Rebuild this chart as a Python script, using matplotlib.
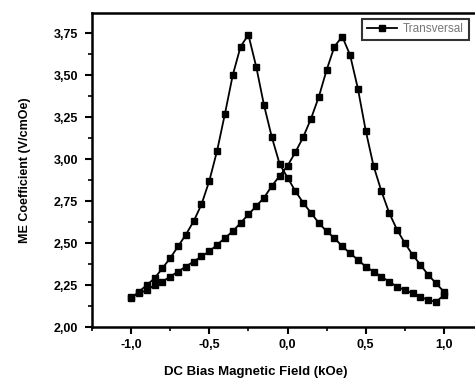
import numpy as np
import matplotlib
matplotlib.use("Agg")
import matplotlib.pyplot as plt

plt.rcParams['font.family'] = ['Liberation Sans', 'DejaVu Sans']

# sweep -1 -> 1 kOe
field_up = [-1.00, -0.95, -0.90, -0.85, -0.80, -0.75, -0.70, -0.65, -0.60, -0.55,
            -0.50, -0.45, -0.40, -0.35, -0.30, -0.25, -0.20, -0.15, -0.10, -0.05,
            0.00, 0.05, 0.10, 0.15, 0.20, 0.25, 0.30, 0.35, 0.40, 0.45,
            0.50, 0.55, 0.60, 0.65, 0.70, 0.75, 0.80, 0.85, 0.90, 0.95, 1.00]
me_up = [2.18, 2.20, 2.22, 2.25, 2.27, 2.30, 2.33, 2.36, 2.39, 2.42,
         2.45, 2.49, 2.53, 2.57, 2.62, 2.67, 2.72, 2.77, 2.84, 2.90,
         2.96, 3.04, 3.13, 3.24, 3.37, 3.53, 3.67, 3.73, 3.62, 3.42,
         3.17, 2.96, 2.81, 2.68, 2.58, 2.50, 2.43, 2.37, 2.31, 2.26, 2.21]

# sweep 1 -> -1 kOe
field_down = [1.00, 0.95, 0.90, 0.85, 0.80, 0.75, 0.70, 0.65, 0.60, 0.55,
              0.50, 0.45, 0.40, 0.35, 0.30, 0.25, 0.20, 0.15, 0.10, 0.05,
              0.00, -0.05, -0.10, -0.15, -0.20, -0.25, -0.30, -0.35, -0.40, -0.45,
              -0.50, -0.55, -0.60, -0.65, -0.70, -0.75, -0.80, -0.85, -0.90, -0.95, -1.00]
me_down = [2.19, 2.15, 2.16, 2.18, 2.20, 2.22, 2.24, 2.27, 2.30, 2.33,
           2.36, 2.40, 2.44, 2.48, 2.53, 2.57, 2.62, 2.68, 2.74, 2.81,
           2.89, 2.97, 3.13, 3.32, 3.55, 3.74, 3.67, 3.50, 3.27, 3.05,
           2.87, 2.73, 2.63, 2.55, 2.48, 2.41, 2.35, 2.29, 2.25, 2.21, 2.17]

xticks = [-1.0, -0.5, 0.0, 0.5, 1.0]
xtick_labels = ['-1,0', '-0,5', '0,0', '0,5', '1,0']
yticks = [2.00, 2.25, 2.50, 2.75, 3.00, 3.25, 3.50, 3.75]
ytick_labels = ['2,00', '2,25', '2,50', '2,75', '3,00', '3,25', '3,50', '3,75']

fig = plt.figure(figsize=(4.75, 3.8), dpi=100)
ax = fig.add_axes([92 / 475, 53 / 380, 391 / 475, 314 / 380])

field = field_up + field_down
me = me_up + me_down
ax.plot(field, me, color='black', lw=1.3, marker='s', ms=4.4, label='Transversal')

ax.set_xlim(-1.24, 1.25)
ax.set_ylim(2.0, 3.87)
ax.set_xticks(xticks)
ax.set_xticklabels(xtick_labels)
ax.set_yticks(yticks)
ax.set_yticklabels(ytick_labels)
ax.set_xticks(np.arange(-1.25, 1.26, 0.25), minor=True)
ax.set_yticks(np.arange(2.125, 3.87, 0.25), minor=True)

ax.tick_params(which='major', direction='out', length=5, width=1.5,
               labelsize=9)
ax.tick_params(axis='y', which='major', pad=5)
ax.tick_params(axis='x', which='major', pad=4)
ax.tick_params(which='minor', direction='out', length=3, width=1.2)
for lab in ax.get_xticklabels() + ax.get_yticklabels():
    lab.set_fontweight('bold')
for sp in ax.spines.values():
    sp.set_linewidth(1.8)

ax.set_xlabel('DC Bias Magnetic Field (kOe)', fontsize=9.5, fontweight='bold')
ax.set_ylabel('ME Coefficient (V/cmOe)', fontsize=9, fontweight='bold')
ax.xaxis.set_label_coords(0.42, -0.125)
ax.yaxis.set_label_coords(-0.155, 0.5)

leg = ax.legend(loc='upper left', bbox_to_anchor=(0.69, 0.982), fontsize=8.5,
                frameon=True, fancybox=False, borderpad=0.4, handlelength=2.6,
                handletextpad=0.5, borderaxespad=0)
leg.get_frame().set_edgecolor('black')
leg.get_frame().set_linewidth(1.5)
for t in leg.get_texts():
    t.set_color('#777777')

fig.savefig('out.png', dpi=100)
